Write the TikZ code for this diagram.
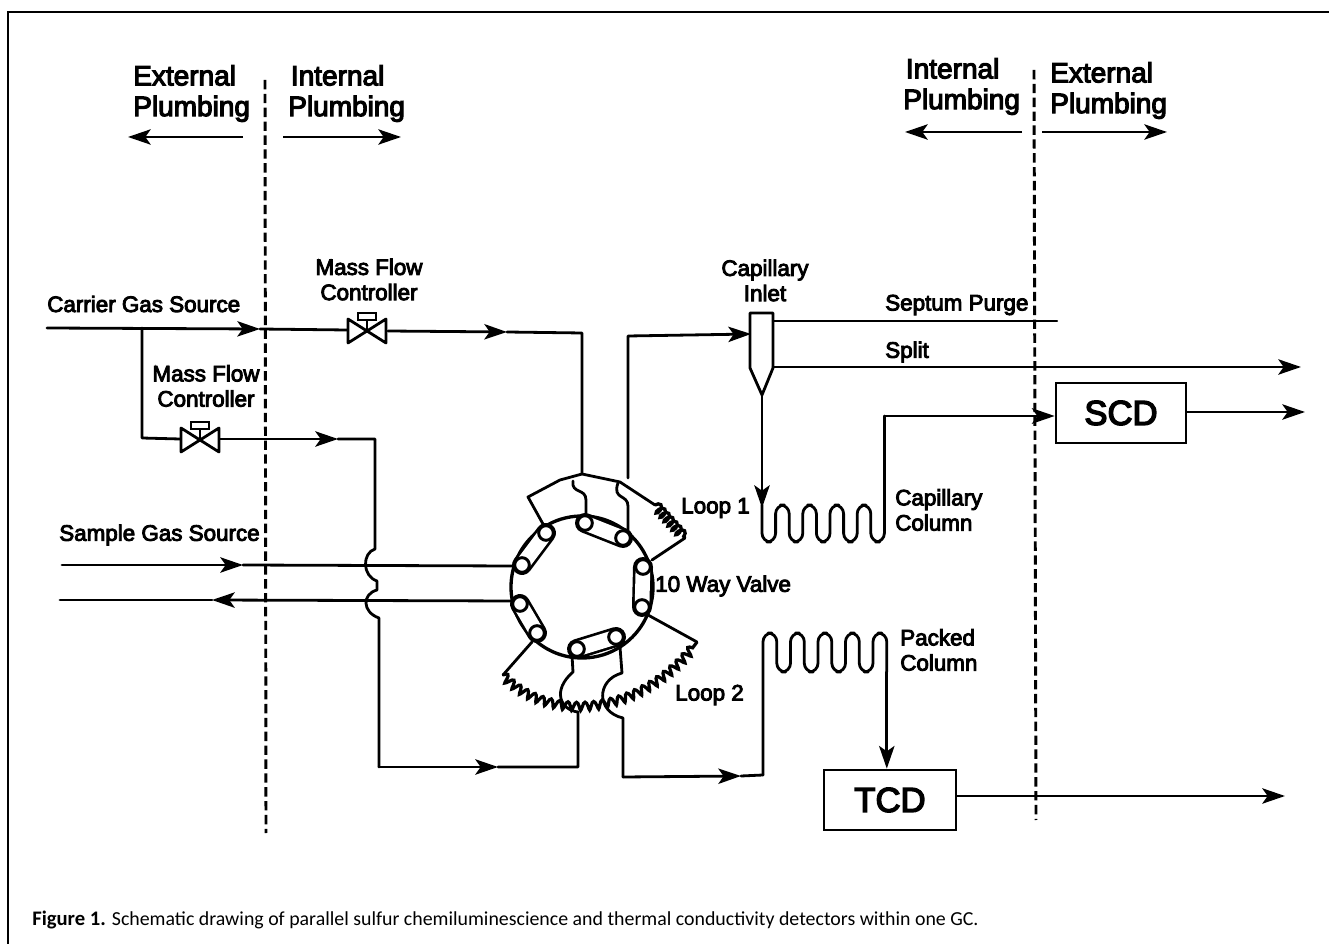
\documentclass[tikz,border=0pt]{standalone}
\usepackage{fontspec}
\usetikzlibrary{arrows.meta,decorations.pathmorphing}
\newfontfamily\lab[RawFeature={embolden=4}]{Liberation Sans}
\newfontfamily\capfont{Carlito}
\tikzset{
 pipe/.style={line width=2.1pt,line join=round,line cap=round},
 thin pipe/.style={line width=1.7pt,line cap=round},
 arr/.style={pipe,-{Stealth[length=17pt,width=11.5pt,inset=4pt]}},
 bigarr/.style={line width=1.9pt,-{Stealth[length=17pt,width=11.5pt,inset=4pt]}},
 div/.style={line width=2.2pt,dash pattern=on 7pt off 3.4pt},
 bigtxt/.style={font=\lab\fontsize{21}{23}\selectfont,align=left,anchor=west,inner sep=0pt},
 smtxt/.style={font=\lab\fontsize{16.8}{18.9}\selectfont,align=center,inner sep=0pt},
 boxtxt/.style={draw,line width=2pt,font=\lab\fontsize{26}{28}\selectfont,inner sep=0pt},
 cap link/.style={line cap=round},
 port/.style={circle,draw,line width=2.2pt,fill=white,minimum size=11pt,inner sep=0pt},
 coilpipe/.style={line width=2.5pt,decorate,decoration={coil,aspect=0.5,segment length=4.4pt,amplitude=3.4pt}},
 snakepipe/.style={line width=2.4pt,decorate,decoration={coil,aspect=0.15,segment length=6.6pt,amplitude=3pt}},
}
\newcommand{\capsule}[2]{%
 \draw[line width=15pt,black,cap link] (#1) -- (#2);
 \draw[line width=11pt,white,cap link] (#1) -- (#2);
 \node[port] at (#1) {}; \node[port] at (#2) {};}
\newcommand{\gatevalve}[2]{%
 \begin{scope}[shift={(#1,#2)}]
 \draw[pipe,fill=white] (-19,-12) -- (19,12) -- (19,-12) -- (-19,12) -- cycle;
 \draw[pipe] (0,0) -- (0,-11);
 \draw[line width=1.7pt,fill=white] (-9,-18) rectangle (9,-11);
 \end{scope}}
\begin{document}
\begin{tikzpicture}[x=0.75pt,y=-0.75pt]
\useasboundingbox (0,0) rectangle (1329,944);
\fill[white] (0,0) rectangle (1329,944);
% frame
\draw[line width=1.5pt] (8,944) -- (8,12) -- (1329,12);
% named points
\coordinate (c) at (582,587);
\coordinate (p1) at (585,523); \coordinate (p2) at (623,538);
\coordinate (p3) at (643,567); \coordinate (p4) at (642,607);
\coordinate (p5) at (616,637); \coordinate (p6) at (577,649);
\coordinate (p7) at (537,633); \coordinate (p8) at (520,604);
\coordinate (p9) at (522,565); \coordinate (p10) at (546,533);
\coordinate (man) at (582,474);
\node[boxtxt,minimum width=97.5pt,minimum height=45pt] (SCD) at (1121,413) {SCD};
\node[boxtxt,minimum width=99pt,minimum height=45pt] (TCD) at (890,800) {TCD};
% dividers
\coordinate (dl1) at (265,80); \coordinate (dl2) at (266,833);
\coordinate (dr1) at (1034,70); \coordinate (dr2) at (1036,820);
\draw[div] (dl1) -- (dl2);
\draw[div] (dr1) -- (dr2);
% plumbing labels
\node[bigtxt] (extL) at (133,93.5) {External\\Plumbing};
\node[bigtxt] (intL) at (288,93.5) {\hspace*{2pt}Internal\\Plumbing};
\node[bigtxt] (intR) at (903,86.5) {\hspace*{2pt}Internal\\Plumbing};
\node[bigtxt] (extR) at (1050,90.5) {External\\Plumbing};
\coordinate (a1) at (243,137); \coordinate (a2) at (128,137);
\coordinate (a3) at (283,137); \coordinate (a4) at (401,137);
\coordinate (a5) at (1022,132); \coordinate (a6) at (905,132);
\coordinate (a7) at (1042,132); \coordinate (a8) at (1167,132);
\draw[bigarr] (a1) -- (a2); \draw[bigarr] (a3) -- (a4);
\draw[bigarr] (a5) -- (a6); \draw[bigarr] (a7) -- (a8);
% carrier
\coordinate (cs) at (47,328); \coordinate (tee) at (142,328);
\coordinate (t1) at (260,329); \coordinate (v1l) at (347,330);
\coordinate (v1r) at (388,331); \coordinate (t2) at (507,332);
\coordinate (k1) at (582,333);
\draw[arr] (cs) -- (t1);
\draw[pipe] (t1) -- (v1l);
\draw[arr] (v1r) -- (t2);
\draw[pipe] (t2) -- (k1) -- (man);
\gatevalve{367}{331}
% branch
\coordinate (v2l) at (180,439); \coordinate (v2r) at (220,439);
\coordinate (t3) at (338,439);
\draw[pipe] (tee) -- (142,438) -- (v2l);
\draw[arr] (v2r) -- (t3);
\gatevalve{200}{440}
\draw[pipe] (t3) -- (375,439) -- (375,549)
  .. controls (362,553) and (362,576) .. (377,581) -- (377,590)
  .. controls (362,594) and (362,612) .. (379,618) -- (379,767);
\coordinate (t4) at (498,767);
\draw[arr] (379,767) -- (t4);
\draw[pipe] (t4) -- (578,767) -- (578,712)
  .. controls (560,710) and (552,690) .. (573,672) -- (572,655);
% sample lines
\coordinate (s1) at (62,565); \coordinate (t5) at (243,565); \coordinate (e1) at (513,566);
\coordinate (s2) at (60,600); \coordinate (t6) at (212,600); \coordinate (e2) at (513,601);
\draw[arr] (s1) -- (t5); \draw[pipe] (t5) -- (e1);
\draw[arr] (e2) -- (t6); \draw[pipe] (t6) -- (s2);
% ring
\draw[line width=2.5pt] (c) circle[radius=71];
\capsule{p1}{p2}
\capsule{p3}{p4}
\capsule{p5}{p6}
\capsule{p7}{p8}
\capsule{p9}{p10}
% manifold top
\coordinate (m0) at (528,497); \coordinate (m1) at (560,480); \coordinate (m2) at (620,482);
\coordinate (m3) at (655,505); \coordinate (m4) at (685,538); \coordinate (m5) at (652,560);
\draw[pipe] (543,524) -- (m0) -- (m1) -- (man) -- (m2) -- (m3);
\draw[pipe] (m4) -- (m5);
\draw[coilpipe] (m3) -- (m4);
\draw[pipe] (573,481) .. controls (571,494) and (586,488) .. (586,500) -- (586,516);
\draw[pipe] (618,483) .. controls (612,500) and (628,494) .. (628,506) -- (628,530);
% to inlet
\coordinate (i0) at (628,336); \coordinate (it) at (751,334);
\draw[arr] (628,478) -- (i0) -- (it);
% inlet
\draw[pipe,fill=white] (750,313) -- (773,313) -- (773,368) -- (762,395) -- (750,368) -- cycle;
\coordinate (sp) at (1057,321); \coordinate (spl) at (1301,367);
\draw[thin pipe] (773,321) -- (sp);
\draw[arr] (773,367) -- (spl);
\coordinate (ct) at (762,508);
\draw[arr] (762,395) -- (ct);
% capillary column
\coordinate (ca) at (884.4,416);
\draw[pipe,rounded corners=6.6pt] (762,505) -- (762,542) -- (775.6,542) -- (775.6,505) -- (789.2,505) -- (789.2,542) -- (802.8,542) -- (802.8,505) -- (816.4,505) -- (816.4,542) -- (830,542) -- (830,505) -- (843.6,505) -- (843.6,542) -- (857.2,542) -- (857.2,505) -- (870.8,505) -- (870.8,542) -- (884.4,542) -- (ca);
\draw[arr] (ca) -- (ca -| SCD.west);
\coordinate (o1) at (1305,412);
\draw[arr] (o1 -| SCD.east) -- (o1);
% loop 2 and lower manifold
\coordinate (n1) at (532,642); \coordinate (n2) at (503,675);
\coordinate (n3) at (697,642); \coordinate (n4) at (648,615);
\draw[pipe] (n1) -- (n2);
\draw[pipe] (n3) -- (n4);
\draw[snakepipe] (n2) .. controls (545,722) and (640,720) .. (n3);
\draw[pipe] (620,647) -- (622,673) .. controls (596,680) and (596,712) .. (623,718) -- (623,777);
\coordinate (t7) at (741,776);
\draw[arr] (623,777) -- (t7);
\draw[pipe] (t7) -- (763,775);
% packed column
\coordinate (pk) at (886.8,672);
\draw[pipe,rounded corners=6.6pt] (763,775) -- (763,633) -- (776.8,633) -- (776.8,672) -- (790.5,672) -- (790.5,633) -- (804.3,633) -- (804.3,672) -- (818,672) -- (818,633) -- (831.8,633) -- (831.8,672) -- (845.5,672) -- (845.5,633) -- (859.3,633) -- (859.3,672) -- (873,672) -- (873,633) -- (886.8,633) -- (pk);
\draw[arr] (pk) -- (pk |- TCD.north);
\coordinate (o2) at (1285,796);
\draw[arr] (o2 -| TCD.east) -- (o2);
% labels
\node[smtxt] (mfc1) at (369,279.5) {Mass Flow\\Controller};
\node[smtxt] (mfc2) at (206,386) {Mass Flow\\Controller};
\node[smtxt] (cap1) at (765,280.5) {Capillary\\Inlet};
\node[smtxt,anchor=west] (cgs) at (47,304) {Carrier Gas Source};
\node[smtxt,anchor=west] (sgs) at (59,535) {Sample Gas Source};
\node[smtxt,anchor=west] (sep) at (885,305) {Septum Purge};
\node[smtxt,anchor=west] (spt) at (885,352) {Split};
\node[smtxt,anchor=west] (l1) at (681,508) {Loop 1};
\node[smtxt,anchor=west] (l2) at (675,695) {Loop 2};
\node[smtxt,anchor=west] (vv) at (655,586) {10 Way Valve};
\node[smtxt,anchor=west,align=left] (cc) at (895,510) {Capillary\\Column};
\node[smtxt,anchor=west,align=left] (pc) at (900,650) {Packed\\Column};
\node[anchor=base west,inner sep=0pt,font=\capfont\fontsize{14.9}{18}\selectfont] (capn) at (32,925) {{\fontsize{15.5}{18}\selectfont\textbf{Figure 1.}} Schematic drawing of parallel sulfur chemiluminescience and thermal conductivity detectors within one GC.};
\end{tikzpicture}
\end{document}
